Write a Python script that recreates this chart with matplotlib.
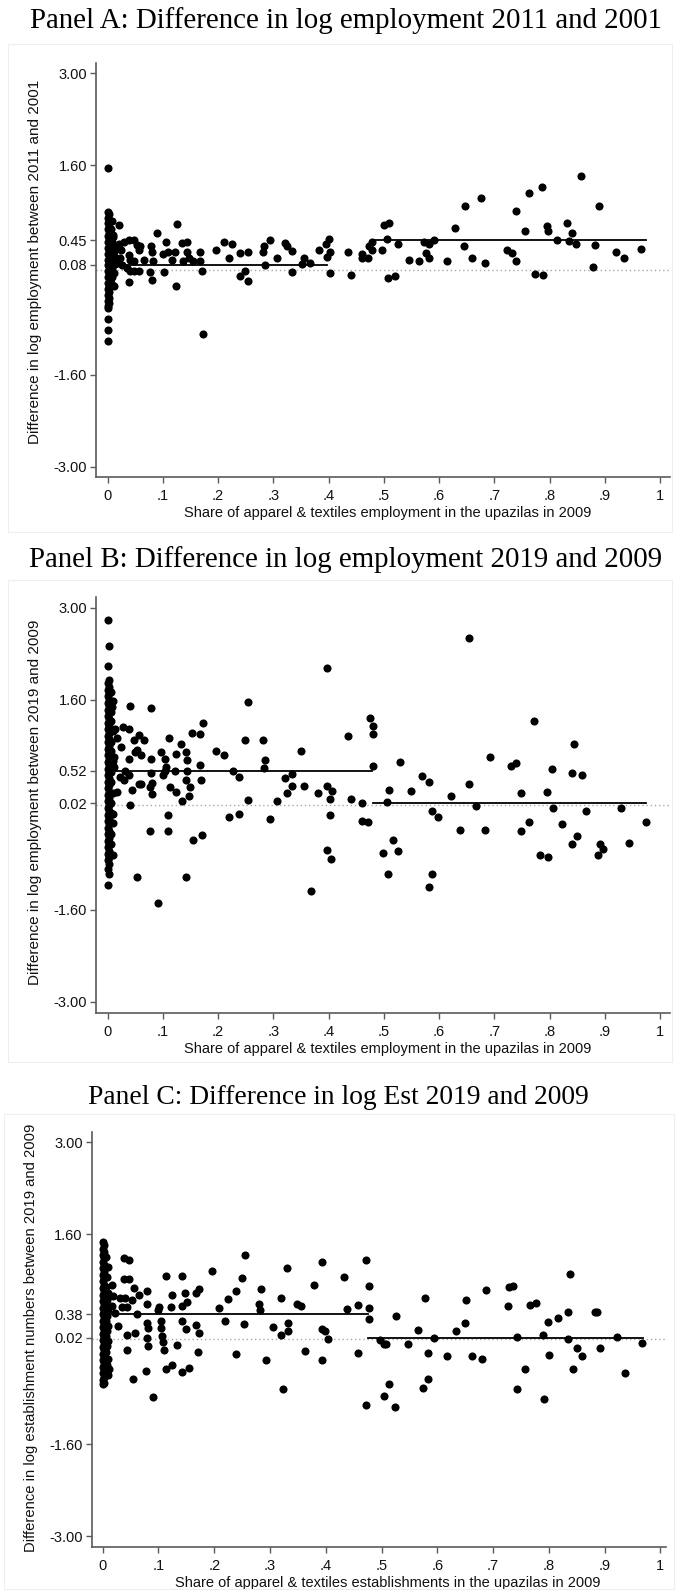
import numpy as np
import matplotlib.pyplot as plt
from matplotlib.patches import Rectangle

# ---- Panel A: log employment 2011 vs 2001 --------------------------------
a_column = [
    (0.000, 1.55), (0.000, 0.89), (0.002, 0.85), (0.000, 0.80), (0.003, 0.76), (0.000, 0.71),
    (0.002, 0.66), (0.000, 0.62), (0.003, 0.57), (0.000, 0.52), (0.002, 0.48), (0.000, 0.43),
    (0.004, 0.39), (0.000, 0.34), (0.003, 0.30), (0.000, 0.25), (0.004, 0.21), (0.000, 0.16),
    (0.003, 0.12), (0.000, 0.07), (0.004, 0.03), (0.000, -0.02), (0.003, -0.06), (0.000, -0.11),
    (0.004, -0.15), (0.000, -0.20), (0.002, -0.24), (0.000, -0.29), (0.003, -0.33), (0.000, -0.38),
    (0.002, -0.42), (0.000, -0.47), (0.002, -0.51), (0.000, -0.55), (0.001, -0.58), (0.000, -0.74),
    (0.000, -0.91), (0.000, -1.08),
    (0.008, 0.42), (0.010, 0.35), (0.007, 0.28), (0.012, 0.22), (0.009, 0.15), (0.013, 0.09),
    (0.008, 0.03), (0.011, -0.04), (0.008, -0.10), (0.010, 0.50), (0.014, 0.30), (0.016, 0.14),
    (0.006, -0.20), (0.011, -0.25), (0.006, 0.62), (0.008, 0.75),
]
a_points = [
    (0.020, 0.69), (0.010, 0.53), (0.029, 0.43), (0.038, 0.46), (0.047, 0.46), (0.053, 0.38),
    (0.059, 0.36), (0.056, 0.30), (0.038, 0.23), (0.041, 0.15), (0.047, 0.13), (0.023, 0.18),
    (0.017, 0.10), (0.026, 0.08), (0.035, 0.03), (0.041, -0.01), (0.047, -0.01), (0.056, -0.01),
    (0.039, -0.19), (0.020, 0.40), (0.025, 0.30), (0.065, 0.16), (0.078, 0.36), (0.080, 0.28),
    (0.082, 0.14), (0.077, -0.03), (0.080, -0.15), (0.090, 0.57), (0.102, -0.03), (0.100, 0.25),
    (0.106, 0.43), (0.110, 0.28), (0.116, 0.16), (0.122, 0.28), (0.125, 0.70), (0.124, -0.24),
    (0.134, 0.41), (0.143, 0.43), (0.136, 0.14), (0.143, 0.28), (0.148, 0.18), (0.154, 0.14),
    (0.167, 0.28), (0.167, 0.14), (0.170, -0.02), (0.172, -0.98), (0.196, 0.30), (0.210, 0.42),
    (0.220, 0.18), (0.226, 0.39), (0.239, 0.26), (0.239, -0.09), (0.249, -0.02), (0.255, 0.28),
    (0.255, -0.17), (0.282, 0.28), (0.284, 0.37), (0.285, 0.08), (0.294, 0.46), (0.306, 0.19),
    (0.321, 0.41), (0.324, 0.36), (0.333, 0.29), (0.334, -0.03), (0.351, 0.09), (0.355, 0.19),
    (0.366, 0.11), (0.382, 0.30), (0.396, 0.39), (0.400, 0.48), (0.403, 0.28), (0.397, 0.20),
    (0.403, -0.04), (0.436, 0.28), (0.440, -0.07), (0.460, 0.24), (0.460, 0.19), (0.471, 0.19),
    (0.473, 0.36), (0.478, 0.30), (0.478, 0.43), (0.497, 0.31), (0.500, 0.68), (0.510, 0.72),
    (0.505, 0.48), (0.508, -0.12), (0.520, -0.09), (0.525, 0.39), (0.546, 0.15), (0.564, 0.13),
    (0.573, 0.43), (0.576, 0.26), (0.582, 0.18), (0.582, 0.39), (0.590, 0.45), (0.614, 0.13),
    (0.629, 0.64), (0.645, 0.36), (0.647, 0.98), (0.659, 0.18), (0.675, 1.09), (0.684, 0.10),
    (0.723, 0.30), (0.732, 0.26), (0.740, 0.14), (0.740, 0.90), (0.755, 0.59), (0.763, 1.18),
    (0.774, -0.06), (0.786, 1.27), (0.789, -0.08), (0.795, 0.67), (0.798, 0.59), (0.813, 0.45),
    (0.831, 0.71), (0.835, 0.44), (0.841, 0.56), (0.848, 0.39), (0.857, 1.43), (0.879, 0.05),
    (0.882, 0.38), (0.889, 0.98), (0.920, 0.27), (0.934, 0.18), (0.965, 0.32),
]
a_means = [(0.015, 0.397, 0.08), (0.484, 0.975, 0.45)]
a_yticks = [3.00, 1.60, 0.45, 0.08, -1.60, -3.00]

# ---- Panel B: log employment 2019 vs 2009 --------------------------------
b_column_y = [2.81, 2.42, 2.11, 1.90, 1.85, 1.80, 1.75, 1.70, 1.65, 1.60, 1.55, 1.50, 1.45, 1.40,
              1.35, 1.30, 1.25, 1.20, 1.15, 1.10, 1.05, 1.00, 0.95, 0.90, 0.85, 0.80, 0.75, 0.70,
              0.65, 0.60, 0.55, 0.50, 0.45, 0.40, 0.35, 0.30, 0.25, 0.20, 0.15, 0.10, 0.05, 0.00,
              -0.05, -0.10, -0.15, -0.20, -0.25, -0.30, -0.35, -0.40, -0.45, -0.50, -0.55, -0.60,
              -0.65, -0.70, -0.75, -0.80, -0.85, -0.90, -0.98, -1.06, -1.22]
b_column2_y = [1.72, 1.58, 1.42, 1.28, 1.12, 0.96, 0.82, 0.66, 0.50, 0.34, 0.18, 0.02, -0.12,
               -0.28, -0.44, -0.60, -0.76]
b_points = [
    (0.008, 1.49), (0.040, 1.50), (0.078, 1.48), (0.014, 1.16), (0.027, 1.18), (0.038, 1.15),
    (0.017, 1.02), (0.047, 0.99), (0.056, 1.06), (0.065, 0.98), (0.025, 0.88), (0.053, 0.84),
    (0.050, 0.80), (0.061, 0.75), (0.038, 0.70), (0.011, 0.73), (0.012, 0.58), (0.032, 0.52),
    (0.038, 0.45), (0.023, 0.42), (0.029, 0.37), (0.017, 0.19), (0.044, 0.22), (0.056, 0.32),
    (0.060, 0.31), (0.041, 0.00), (0.010, -0.14), (0.078, 0.70), (0.079, 0.48), (0.080, 0.33),
    (0.077, 0.27), (0.081, 0.17), (0.076, -0.40), (0.096, 0.81), (0.104, 0.69), (0.106, 0.58),
    (0.100, 0.45), (0.104, 0.52), (0.112, 1.02), (0.113, 0.27), (0.124, 0.78), (0.124, 0.19),
    (0.122, 0.52), (0.132, 0.92), (0.134, 0.06), (0.142, 0.81), (0.143, 0.68), (0.143, 0.52),
    (0.142, 0.37), (0.149, 0.27), (0.147, 0.14), (0.152, 1.09), (0.167, 1.07), (0.172, 1.24),
    (0.167, 0.60), (0.169, 0.37), (0.196, 0.82), (0.109, -0.16), (0.109, -0.40), (0.154, -0.54),
    (0.170, -0.46), (0.054, -1.10), (0.142, -1.10), (0.091, -1.50), (0.368, -1.32),
    (0.210, 0.75), (0.227, 0.52), (0.238, 0.42), (0.219, -0.18), (0.238, -0.14), (0.254, 0.07),
    (0.249, 0.98), (0.255, 1.57), (0.282, 0.99), (0.285, 0.68), (0.284, 0.56), (0.294, -0.22),
    (0.306, 0.05), (0.321, 0.40), (0.325, 0.18), (0.334, 0.47), (0.333, 0.28), (0.350, 0.82),
    (0.356, 0.28), (0.380, 0.18), (0.397, 2.08), (0.397, 0.28), (0.406, 0.21), (0.403, 0.09),
    (0.403, -0.16), (0.397, -0.69), (0.404, -0.83),
    (0.655, 2.54), (0.436, 1.04), (0.475, 1.32), (0.480, 1.20), (0.480, 1.08), (0.480, 0.59),
    (0.530, 0.65), (0.440, 0.08), (0.460, 0.03), (0.460, -0.25), (0.472, -0.27), (0.505, 0.04),
    (0.510, 0.22), (0.499, -0.74), (0.516, -0.54), (0.525, -0.71), (0.508, -1.06), (0.550, 0.21),
    (0.569, 0.44), (0.581, 0.34), (0.587, -0.10), (0.598, -0.18), (0.587, -1.05), (0.582, -1.26),
    (0.622, 0.13), (0.637, -0.39), (0.654, 0.31), (0.667, -0.02), (0.683, -0.39), (0.693, 0.73),
    (0.731, 0.59), (0.740, 0.64), (0.748, 0.18), (0.748, -0.40), (0.763, -0.27), (0.772, 1.27),
    (0.783, -0.77), (0.795, 0.19), (0.798, -0.80), (0.804, 0.54), (0.807, -0.05), (0.822, -0.30),
    (0.840, 0.49), (0.845, 0.93), (0.850, -0.47), (0.841, -0.60), (0.858, 0.46), (0.866, -0.10),
    (0.891, -0.60), (0.897, -0.68), (0.888, -0.76), (0.929, -0.05), (0.943, -0.59), (0.974, -0.26),
]
b_means = [(0.008, 0.479), (0.480, 0.975)]
b_mean_vals = [0.52, 0.02]
b_yticks = [3.00, 1.60, 0.52, 0.02, -1.60, -3.00]

# ---- Panel C: log establishments 2019 vs 2009 ----------------------------
c_column_y = [1.48, 1.43, 1.38, 1.33, 1.28, 1.23, 1.18, 1.13, 1.08, 1.03, 0.98, 0.93, 0.88, 0.83,
              0.78, 0.73, 0.68, 0.63, 0.58, 0.53, 0.48, 0.43, 0.38, 0.33, 0.28, 0.23, 0.18, 0.13,
              0.08, 0.03, -0.02, -0.07, -0.12, -0.17, -0.22, -0.27, -0.32, -0.37, -0.42, -0.47,
              -0.52, -0.57, -0.62, -0.66, -0.69]
c_column2_y = [1.25, 1.10, 0.95, 0.80, 0.70, 0.60, 0.50, 0.42, 0.35, 0.27, 0.20, 0.12, 0.05,
               -0.03, -0.10, -0.20, -0.30, -0.40, -0.45, -0.55]
c_points = [
    (0.016, 0.83), (0.019, 0.66), (0.039, 1.24), (0.047, 1.20), (0.039, 0.91), (0.048, 0.91),
    (0.057, 0.78), (0.065, 0.68), (0.079, 0.73), (0.031, 0.63), (0.040, 0.63), (0.052, 0.60),
    (0.034, 0.49), (0.043, 0.49), (0.016, 0.50), (0.022, 0.40), (0.061, 0.38), (0.079, 0.53),
    (0.028, 0.20), (0.043, 0.07), (0.058, 0.10), (0.080, 0.25), (0.082, 0.17), (0.079, 0.02),
    (0.082, -0.11), (0.043, -0.17), (0.100, 0.45), (0.101, 0.49), (0.104, 0.17), (0.106, 0.05),
    (0.109, -0.05), (0.110, -0.16), (0.105, 0.27), (0.113, 0.96), (0.123, 0.49), (0.124, 0.67),
    (0.114, -0.45), (0.125, -0.39), (0.134, -0.09), (0.142, 0.96), (0.143, 0.51), (0.143, 0.27),
    (0.148, 0.71), (0.151, 0.56), (0.149, 0.16), (0.142, -0.50), (0.154, -0.44), (0.167, 0.21),
    (0.172, 0.10), (0.168, 0.70), (0.173, 0.77), (0.170, -0.20), (0.196, 1.04), (0.055, -0.61),
    (0.077, -0.49), (0.091, -0.88), (0.012, -0.45),
    (0.209, 0.48), (0.220, 0.28), (0.225, 0.61), (0.239, 0.73), (0.239, -0.23), (0.249, 0.93),
    (0.255, 1.28), (0.254, 0.23), (0.281, 0.53), (0.282, 0.44), (0.283, 0.77), (0.292, -0.31),
    (0.306, 0.19), (0.319, 0.06), (0.320, 0.63), (0.323, -0.76), (0.331, 1.09), (0.333, 0.25),
    (0.332, 0.12), (0.348, 0.54), (0.355, 0.51), (0.363, -0.18), (0.378, 0.82), (0.394, 1.17),
    (0.394, 0.16), (0.399, 0.12), (0.404, 0.01), (0.394, -0.32),
    (0.472, 1.21), (0.433, 0.95), (0.478, 0.81), (0.438, 0.46), (0.458, 0.52), (0.478, 0.48),
    (0.477, 0.30), (0.458, -0.21), (0.497, -0.01), (0.504, -0.07), (0.508, -0.07), (0.526, 0.35),
    (0.547, -0.07), (0.513, -0.68), (0.505, -0.86), (0.565, 0.14), (0.577, 0.62), (0.583, -0.21),
    (0.583, -0.61), (0.575, -0.75), (0.594, 0.02), (0.618, -0.26), (0.633, 0.12), (0.650, 0.25),
    (0.651, 0.59), (0.663, -0.25), (0.680, -0.30), (0.688, 0.75), (0.728, 0.79), (0.736, 0.81),
    (0.727, 0.51), (0.743, -0.76), (0.743, 0.03), (0.758, -0.45), (0.766, 0.52), (0.777, 0.55),
    (0.789, 0.07), (0.792, -0.91), (0.798, 0.26), (0.800, -0.24), (0.816, 0.32), (0.834, 0.42),
    (0.834, 0.00), (0.838, 0.99), (0.844, -0.46), (0.851, -0.13), (0.860, -0.25), (0.882, 0.41),
    (0.886, 0.41), (0.892, -0.13), (0.923, 0.04), (0.936, -0.52), (0.967, -0.06), (0.472, -1.00),
    (0.525, -1.03),
]
c_means = [(0.020, 0.475, 0.38), (0.475, 0.968, 0.02)]
c_yticks = [3.00, 1.60, 0.38, 0.02, -1.60, -3.00]

xticks = [0, 0.1, 0.2, 0.3, 0.4, 0.5, 0.6, 0.7, 0.8, 0.9, 1]
xtick_labels = ['0', '.1', '.2', '.3', '.4', '.5', '.6', '.7', '.8', '.9', '1']

titles = ['Panel A: Difference in log employment 2011 and 2001',
          'Panel B: Difference in log employment 2019 and 2009',
          'Panel C: Difference in log Est 2019 and 2009']
ylabels = ['Difference in log employment between 2011 and 2001',
           'Difference in log employment between 2019 and 2009',
           'Difference in log establishment numbers between 2019 and 2009']
xlabels = ['Share of apparel & textiles employment in the upazilas in 2009',
           'Share of apparel & textiles employment in the upazilas in 2009',
           'Share of apparel & textiles establishments in the upazilas in 2009']

W, H = 678, 1590
SANS = 'Liberation Sans'
SERIF = 'Liberation Serif'
AXCOL = '#5a5a5a'


def col_pts(ys, xs_cycle):
    # column of points stacked at (almost) zero share
    return [(xs_cycle[i % len(xs_cycle)], y) for i, y in enumerate(ys)]


def draw_panel(fig, box_px, xlim, ylim, pts, means, yticks, title, title_pos, title_size,
               ylabel, ylabel_y, ylabel_size, xlabel, frame):
    left, top, right, bottom = box_px
    h = bottom - top
    w = right - left
    ax = fig.add_axes([left / W, 1 - bottom / H, w / W, h / H])
    pts = np.array(pts)
    ax.axhline(0, color='#a8a8a8', lw=1.0, ls=(0, (1, 2)), zorder=1)
    ax.scatter(pts[:, 0], pts[:, 1], s=34, color='black', linewidths=0, zorder=3)
    for x0, x1, m in means:
        ax.plot([x0, x1], [m, m], color='black', lw=1.3, zorder=2)
    ax.set_xlim(*xlim)
    ax.set_ylim(*ylim)
    ax.set_yticks(yticks)
    ax.set_yticklabels([f'{v:.2f}' for v in yticks], fontfamily=SANS, fontsize=10.5)
    ax.set_xticks(xticks)
    ax.set_xticklabels(xtick_labels, fontfamily=SANS, fontsize=10.5)
    for s in ['top', 'right']:
        ax.spines[s].set_visible(False)
    for s in ['left', 'bottom']:
        ax.spines[s].set_color(AXCOL)
        ax.spines[s].set_linewidth(1.2)
    ax.tick_params(axis='both', colors=AXCOL, labelcolor='#111111', length=4.5, width=1.0)
    ax.tick_params(axis='y', pad=2)
    ax.tick_params(axis='x', pad=4.2)
    ax.set_ylabel(ylabel, fontfamily=SANS, fontsize=ylabel_size, color='#111111')
    ax.yaxis.set_label_coords(-54 / w, ylabel_y)
    ax.set_xlabel(xlabel, fontfamily=SANS, fontsize=10.5, color='#111111')
    ax.xaxis.set_label_coords((388 - left) / w, -29 / h)
    tx, ty = title_pos
    fig.text(tx / W, 1 - ty / H, title, ha='center', va='center',
             fontfamily=SERIF, fontsize=title_size)
    fx0, fy0, fx1, fy1 = frame
    fig.patches.append(Rectangle((fx0 / W, 1 - fy1 / H), (fx1 - fx0) / W, (fy1 - fy0) / H,
                                 transform=fig.transFigure, fill=False,
                                 edgecolor='#eeeeee', lw=0.8, zorder=0))
    return ax


fig = plt.figure(figsize=(6.78, 15.90), dpi=100)

pts_a = a_column + a_points
pts_b = (col_pts(b_column_y, [0.000, 0.002, 0.000, 0.003]) +
         col_pts(b_column2_y, [0.006, 0.009, 0.007]) + b_points)
pts_c = (col_pts(c_column_y, [0.000, 0.002, 0.000, 0.003]) +
         col_pts(c_column2_y, [0.006, 0.009, 0.007]) + c_points)
means_b = [(x0, x1, m) for (x0, x1), m in zip(b_means, b_mean_vals)]

draw_panel(fig, (96, 63.3, 670, 476.7), (-0.021, 1.018), (-3.15, 3.15), pts_a, a_means, a_yticks,
           titles[0], (346, 21), 20.8, ylabels[0], 0.52, 11, xlabels[0], (8, 44, 672, 532))
draw_panel(fig, (96, 596.7, 670, 1012.7), (-0.021, 1.018), (-3.17, 3.17), pts_b, means_b, b_yticks,
           titles[1], (346, 560), 20.8, ylabels[1], 0.505, 11, xlabels[1], (8, 580, 672, 1062))
draw_panel(fig, (91.7, 1132.3, 666, 1546.7), (-0.0197, 1.01), (-3.16, 3.15), pts_c, c_means, c_yticks,
           titles[2], (338.5, 1098), 19.8, ylabels[2], 0.505, 10.6, xlabels[2], (4, 1114, 674, 1589))

fig.savefig('out.png', dpi=100)
